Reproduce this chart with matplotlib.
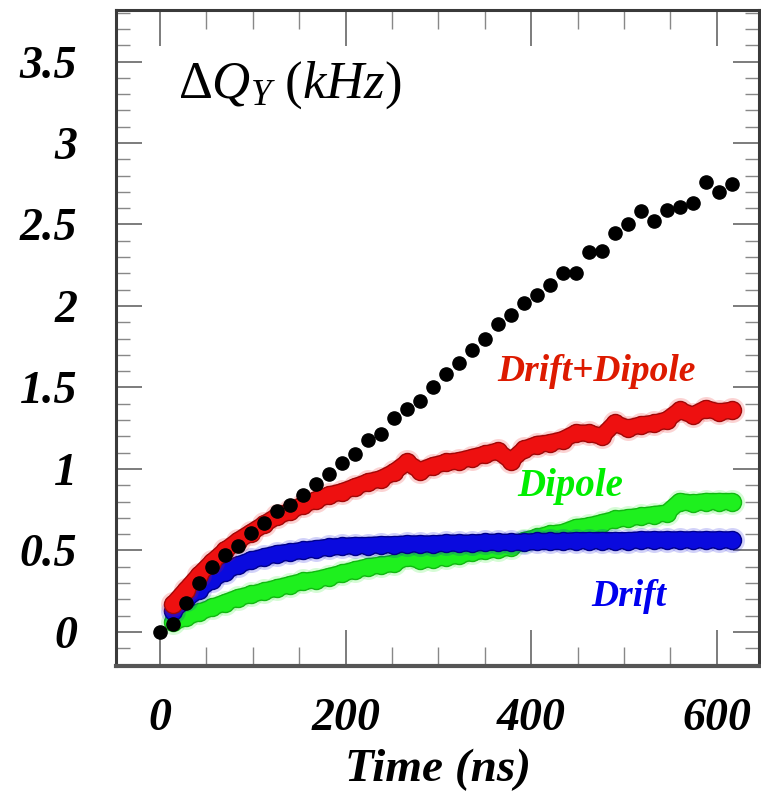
import matplotlib
matplotlib.use("Agg")
import matplotlib.pyplot as plt
from matplotlib.ticker import MultipleLocator

plt.rcParams['font.family'] = ['Liberation Serif', 'DejaVu Serif']
plt.rcParams['mathtext.fontset'] = 'custom'
plt.rcParams['mathtext.rm'] = 'Liberation Serif'
plt.rcParams['mathtext.it'] = 'Liberation Serif:italic'

# ---- data ----
time_all = [0, 14, 28, 42, 56, 70, 84, 98, 112, 126, 140, 154, 168, 182, 196,
            210, 224, 238, 252, 266, 280, 294, 308, 322, 336, 350, 364, 378,
            392, 406, 420, 434, 448, 462, 476, 490, 504, 518, 532, 546, 560,
            574, 588, 602, 616]
total = [0.0, 0.05, 0.18, 0.30, 0.40, 0.47, 0.53, 0.61, 0.67, 0.74, 0.78, 0.84,
         0.91, 0.97, 1.035, 1.09, 1.18, 1.215, 1.31, 1.37, 1.42, 1.50, 1.58,
         1.65, 1.73, 1.80, 1.89, 1.945, 2.02, 2.07, 2.13, 2.20, 2.205, 2.33,
         2.34, 2.45, 2.50, 2.58, 2.52, 2.59, 2.61, 2.63, 2.76, 2.70, 2.75]

time_sim = time_all[1:]
drift_dipole = [0.17, 0.26, 0.35, 0.43, 0.50, 0.56, 0.61, 0.66, 0.71, 0.74,
                0.78, 0.81, 0.84, 0.86, 0.89, 0.92, 0.94, 0.98, 1.04, 0.99,
                1.02, 1.04, 1.05, 1.07, 1.09, 1.11, 1.05, 1.12, 1.15, 1.16,
                1.18, 1.22, 1.22, 1.20, 1.28, 1.25, 1.27, 1.28, 1.30, 1.36,
                1.33, 1.37, 1.35, 1.36]
drift = [0.13, 0.20, 0.26, 0.32, 0.37, 0.41, 0.44, 0.46, 0.48, 0.49, 0.50,
         0.51, 0.52, 0.525, 0.53, 0.53, 0.535, 0.535, 0.54, 0.54, 0.54, 0.545,
         0.545, 0.545, 0.55, 0.55, 0.55, 0.55, 0.555, 0.555, 0.555, 0.56,
         0.56, 0.56, 0.56, 0.56, 0.565, 0.565, 0.565, 0.565, 0.565, 0.565,
         0.565, 0.565]
dipole = [0.06, 0.09, 0.12, 0.15, 0.18, 0.21, 0.23, 0.25, 0.27, 0.29, 0.31,
          0.32, 0.34, 0.36, 0.38, 0.40, 0.41, 0.42, 0.46, 0.44, 0.45, 0.46,
          0.47, 0.49, 0.50, 0.51, 0.52, 0.56, 0.58, 0.60, 0.61, 0.64, 0.65,
          0.67, 0.69, 0.70, 0.71, 0.72, 0.73, 0.80, 0.79, 0.80, 0.80, 0.80]

xticks = [0, 200, 400, 600]
yticks = [0, 0.5, 1, 1.5, 2, 2.5, 3, 3.5]
ytick_labels = ['0', '0.5', '1', '1.5', '2', '2.5', '3', '3.5']

# ---- figure ----
fig = plt.figure(figsize=(7.61, 7.96), dpi=100)
ax = fig.add_axes([116/761, 1-666/796, (759-116)/761, (666-10)/796])

series = [
    (dipole, '#1ef01e', '#12b812', 2),
    (drift, '#0a0ade', '#00008a', 3),
    (drift_dipole, '#ee1010', '#a00808', 4),
]
for vals, fc, ec, z in series:
    ax.plot(time_sim, vals, 'o', ms=18, color=fc, alpha=0.18, mec='none', zorder=z)
    ax.plot(time_sim, vals, '-', lw=12.5, color=ec, zorder=z, solid_capstyle='round')
    ax.plot(time_sim, vals, 'o', ms=14, color=ec, mec='none', zorder=z)
    ax.plot(time_sim, vals, '-', lw=10.5, color=fc, zorder=z, solid_capstyle='round')
    ax.plot(time_sim, vals, 'o', ms=12, color=fc, mec='none', zorder=z)

ax.plot(time_all, total, 'o', ms=9.5, color='black', mec='black', zorder=6)

ax.set_xlim(-47.4, 645.5)
ax.set_ylim(-0.209, 3.816)

ax.set_xticks(xticks)
ax.set_xticklabels([str(v) for v in xticks])
ax.set_yticks(yticks)
ax.set_yticklabels(ytick_labels)
ax.xaxis.set_minor_locator(MultipleLocator(50))
ax.yaxis.set_minor_locator(MultipleLocator(0.1))

for lab in ax.get_xticklabels() + ax.get_yticklabels():
    lab.set_fontsize(33)
    lab.set_fontweight('bold')
    lab.set_fontstyle('italic')

ax.tick_params(axis='x', which='major', direction='in', length=26, width=1.2,
               color='#666666', top=True, bottom=True, pad=23)
ax.tick_params(axis='x', which='minor', direction='in', length=14, width=1.0,
               color='#888888', top=True, bottom=True)
ax.tick_params(axis='y', which='major', direction='in', length=19, width=1.2,
               color='#666666', left=True, right=True, pad=28)
ax.tick_params(axis='y', which='minor', direction='in', length=10, width=1.0,
               color='#888888', left=True, right=True)

for side, sp in ax.spines.items():
    sp.set_color('#3a3a3a')
    sp.set_linewidth(2.2)
ax.spines['bottom'].set_linewidth(3.0)
ax.spines['bottom'].set_color('#555555')

ax.set_xlabel('Time (ns)', fontsize=34, fontweight='bold', fontstyle='italic',
              labelpad=6)

ax.text(19, 3.28, r'$\Delta Q_{Y}\ (kHz)$', fontsize=38, color='black',
        ha='left', va='baseline')
ax.text(363, 1.595, 'Drift+Dipole', fontsize=27, fontweight='bold',
        fontstyle='italic', color='#dd1a00', ha='left', va='center')
ax.text(385, 0.89, 'Dipole', fontsize=28, fontweight='bold',
        fontstyle='italic', color='#00ee00', ha='left', va='center')
ax.text(465, 0.215, 'Drift', fontsize=27, fontweight='bold',
        fontstyle='italic', color='#0000ee', ha='left', va='center')

fig.savefig('out.png', dpi=100)
